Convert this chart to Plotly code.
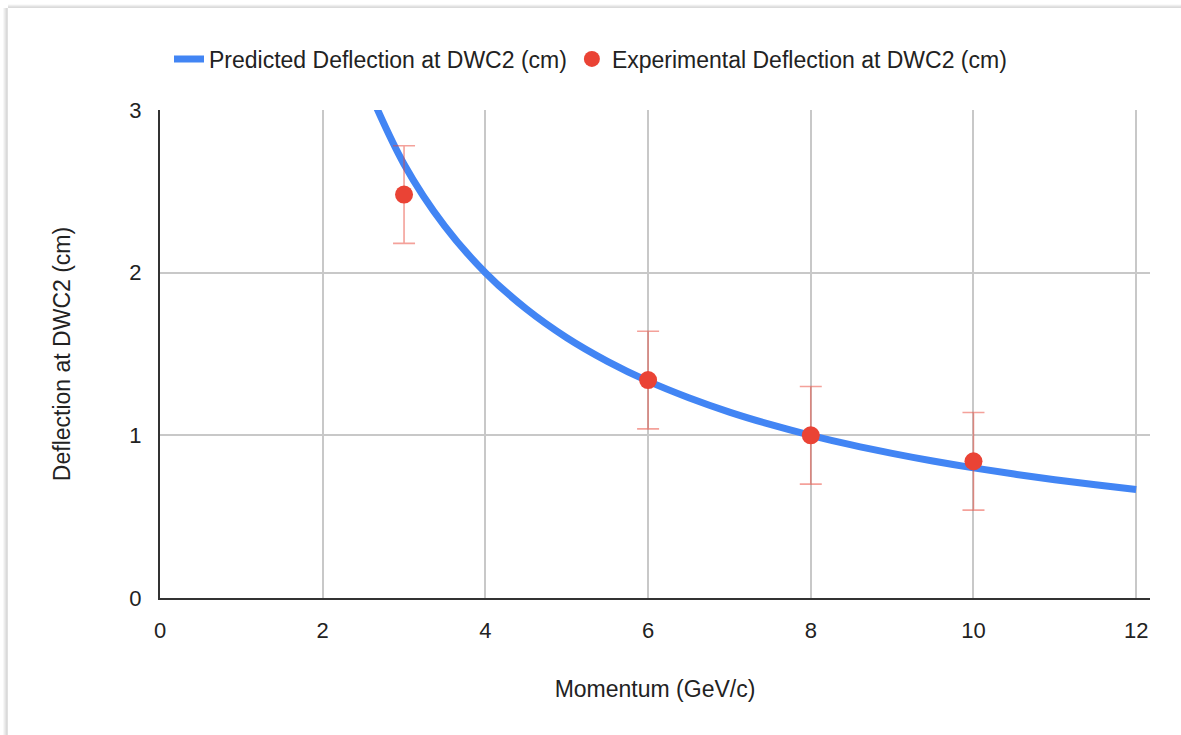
import plotly.graph_objects as go

# Predicted deflection curve (momentum in GeV/c, deflection in cm)
pred_momentum = [2.5, 3, 3.5, 4, 4.5, 5, 5.5, 6, 6.5, 7, 7.5, 8, 8.5, 9, 9.5,
                 10, 10.5, 11, 11.5, 12]
pred_deflection = [3.2, 2.667, 2.286, 2.0, 1.778, 1.6, 1.455, 1.333, 1.231, 1.143,
                   1.067, 1.0, 0.941, 0.889, 0.842, 0.8, 0.762, 0.727, 0.696, 0.667]

# Measured deflections with uncertainty
exp_momentum = [3, 6, 8, 10]
exp_deflection = [2.48, 1.34, 1.0, 0.84]
exp_error = [0.3, 0.3, 0.3, 0.3]

x_ticks = [0, 2, 4, 6, 8, 10, 12]
y_ticks = [0, 1, 2, 3]

W, H = 1181, 735
ML, MR, MT, MB = 160, 31, 110, 137
FONT = "Arial, Liberation Sans, sans-serif"
TEXT = "#222222"

fig = go.Figure()

fig.add_trace(go.Scatter(
    x=pred_momentum, y=pred_deflection,
    mode="lines", line=dict(color="#4285F4", width=7, shape="spline"),
    name="Predicted Deflection at DWC2 (cm)",
))

fig.add_trace(go.Scatter(
    x=exp_momentum, y=exp_deflection,
    mode="markers",
    marker=dict(color="#EA4335", size=18),
    error_y=dict(type="data", array=exp_error, visible=True,
                 color="rgba(234,67,53,0.5)", thickness=1.6, width=11),
    name="Experimental Deflection at DWC2 (cm)",
))


def px_x(p):
    return (p - ML) / (W - ML - MR)


def px_y(p):
    return 1 - (p - MT) / (H - MT - MB)


# soft card shadow along the left and top edges
shadow = []
for i, c in enumerate(["#f4f4f4", "#eaeaea", "#e0e0e0", "#d6d6d6"]):
    shadow.append(dict(type="line", xref="paper", yref="paper",
                       x0=px_x(4 + i), x1=px_x(4 + i), y0=px_y(8), y1=px_y(H),
                       line=dict(color=c, width=1.5)))
    shadow.append(dict(type="line", xref="paper", yref="paper",
                       x0=px_x(8), x1=px_x(W), y0=px_y(5 + i * 0.8), y1=px_y(5 + i * 0.8),
                       line=dict(color=c, width=1)))

fig.update_layout(
    width=W, height=H,
    margin=dict(l=ML, r=MR, t=MT, b=MB),
    paper_bgcolor="white", plot_bgcolor="white",
    font=dict(family=FONT, size=23, color=TEXT),
    showlegend=True,
    legend=dict(orientation="h", xref="container", yref="container",
                x=0.5, xanchor="center", y=1 - 59 / H, yanchor="middle",
                font=dict(size=23, color=TEXT),
                itemsizing="trace", itemwidth=30),
    shapes=shadow,
    xaxis=dict(
        range=[0, 12.17], tickvals=x_ticks,
        showgrid=True, gridcolor="#c8c8c8", gridwidth=1.5,
        showline=True, linecolor="#333333", linewidth=2,
        zeroline=False, ticks="", ticklabelstandoff=12,
        tickfont=dict(size=22, color=TEXT),
        title=dict(text="Momentum (GeV/c)", standoff=38,
                   font=dict(size=23, color=TEXT)),
    ),
    yaxis=dict(
        range=[0, 3], tickvals=y_ticks,
        showgrid=True, gridcolor="#c8c8c8", gridwidth=1.5,
        showline=True, linecolor="#333333", linewidth=2,
        zeroline=False, ticks="", ticklabelstandoff=12,
        tickfont=dict(size=22, color=TEXT),
        title=dict(text="Deflection at DWC2 (cm)", standoff=52,
                   font=dict(size=23, color=TEXT)),
    ),
)

fig.write_html("out.html")
